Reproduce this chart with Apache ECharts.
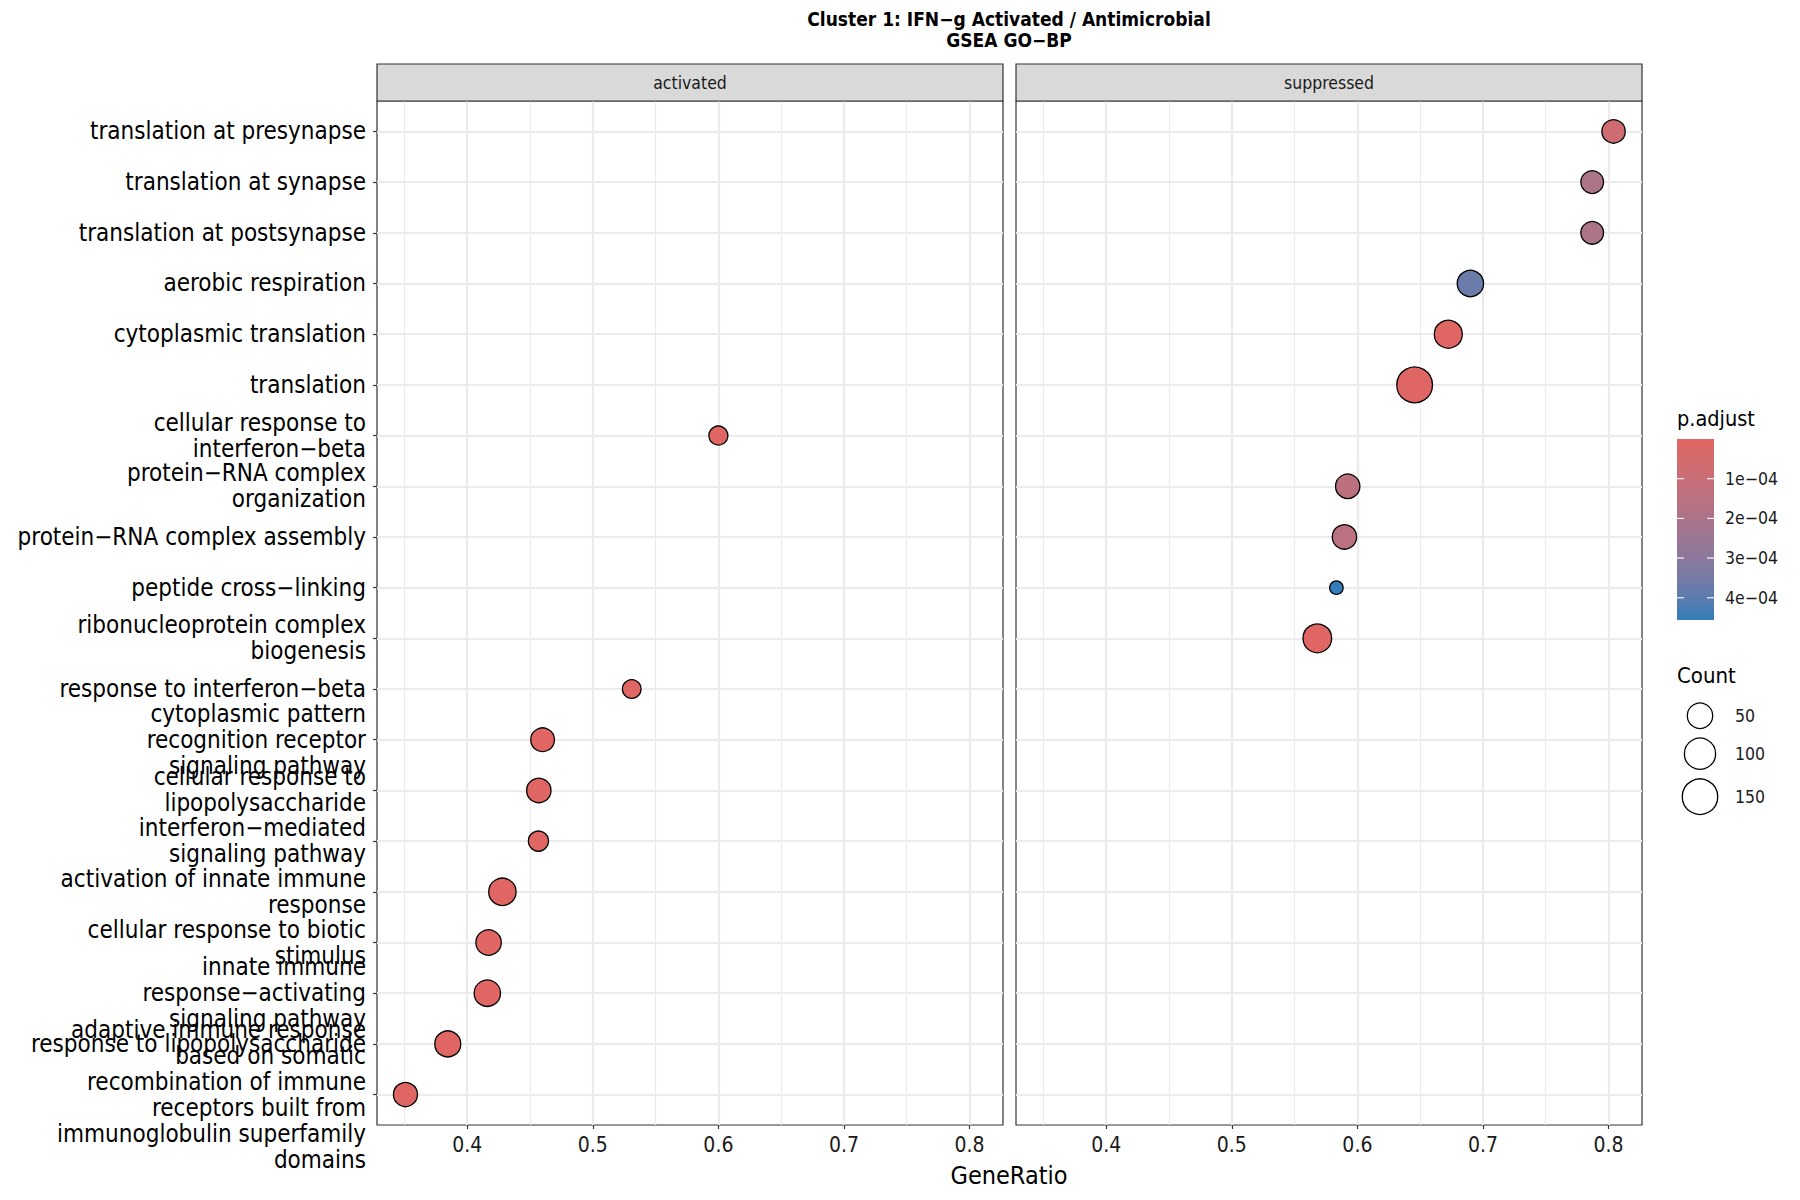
<!DOCTYPE html>
<html><head><meta charset="utf-8">
<script src="https://cdn.jsdelivr.net/npm/echarts@6/dist/echarts.min.js"></script>
<style>html,body{margin:0;padding:0;background:#fff}#c{width:1800px;height:1200px}</style>
</head><body><div id="c"></div>
<script>
// ---------- data ----------
const facets = ['activated', 'suppressed'];
const categories = [
  'translation at presynapse',
  'translation at synapse',
  'translation at postsynapse',
  'aerobic respiration',
  'cytoplasmic translation',
  'translation',
  'cellular response to\ninterferon−beta',
  'protein−RNA complex\norganization',
  'protein−RNA complex assembly',
  'peptide cross−linking',
  'ribonucleoprotein complex\nbiogenesis',
  'response to interferon−beta',
  'cytoplasmic pattern\nrecognition receptor\nsignaling pathway',
  'cellular response to\nlipopolysaccharide',
  'interferon−mediated\nsignaling pathway',
  'activation of innate immune\nresponse',
  'cellular response to biotic\nstimulus',
  'innate immune\nresponse−activating\nsignaling pathway',
  'response to lipopolysaccharide',
  'adaptive immune response\nbased on somatic\nrecombination of immune\nreceptors built from\nimmunoglobulin superfamily\ndomains'
];
const actTerms = [
  'cellular response to\ninterferon−beta',
  'response to interferon−beta',
  'cytoplasmic pattern\nrecognition receptor\nsignaling pathway',
  'cellular response to\nlipopolysaccharide',
  'interferon−mediated\nsignaling pathway',
  'activation of innate immune\nresponse',
  'cellular response to biotic\nstimulus',
  'innate immune\nresponse−activating\nsignaling pathway',
  'response to lipopolysaccharide',
  'adaptive immune response\nbased on somatic\nrecombination of immune\nreceptors built from\nimmunoglobulin superfamily\ndomains'
];
const actRatio = [0.600, 0.531, 0.460, 0.457, 0.4567, 0.428, 0.417, 0.416, 0.3845, 0.3508];
const actCount = [17, 16, 39, 43, 21, 65, 50, 57, 54, 41];
const actPadj  = [2e-9, 3e-8, 1e-9, 1e-10, 5e-9, 1e-12, 1e-11, 1e-11, 1e-10, 2e-9];

const supTerms = [
  'translation at presynapse',
  'translation at synapse',
  'translation at postsynapse',
  'aerobic respiration',
  'cytoplasmic translation',
  'translation',
  'protein−RNA complex\norganization',
  'protein−RNA complex assembly',
  'peptide cross−linking',
  'ribonucleoprotein complex\nbiogenesis'
];
const supRatio = [0.804, 0.787, 0.787, 0.690, 0.6724, 0.6456, 0.5923, 0.5897, 0.5833, 0.5681];
const supCount = [37, 33, 33, 57, 70, 153, 43, 43, 8, 76];
const supPadj  = [7.3e-5, 2.0e-4, 2.0e-4, 3.73e-4, 1e-9, 1e-12, 1.41e-4, 1.45e-4, 4.56e-4, 1e-8];

const xMajor = [0.4, 0.5, 0.6, 0.7, 0.8];
const xMinor = [0.35, 0.45, 0.55, 0.65, 0.75];
const padjTicks = [1e-4, 2e-4, 3e-4, 4e-4];
const padjTickLabels = ['1e−04', '2e−04', '3e−04', '4e−04'];
const countLegend = [50, 100, 150];
const titleText = 'Cluster 1: IFN−g Activated / Antimicrobial\nGSEA GO−BP';
const xTitle = 'GeneRatio';

// ---------- styling / layout ----------
const FONT = "'DejaVu Sans Condensed', 'DejaVu Sans', sans-serif";
const gradColors = ['#E06663','#D26B6E','#C46F79','#B47284','#A3758E','#907899','#7A7AA4','#5E7CAF','#327EBA'];
const panelTop = 101, panelH = 1024, panelW = 626;
const panelLeft = [377, 1016];
const nCat = categories.length;
const yMin = 0.4, yMax = nCat + 0.6;

const allRatio = actRatio.concat(supRatio);
const rLo = Math.min(...allRatio), rHi = Math.max(...allRatio);
const rPad = 0.05 * (rHi - rLo);
const xMin = rLo - rPad, xMax = rHi + rPad;

const allCount = actCount.concat(supCount);
const cMin = Math.min(...allCount), cMax = Math.max(...allCount);
const allP = actPadj.concat(supPadj);
const pMin = Math.min(...allP), pMax = Math.max(...allP);
const BORDER = 1.3;
function dotDiameter(c) { return 14.7 + 22.3 * Math.sqrt((c - cMin) / (cMax - cMin)); }
function yOf(term) { return nCat - categories.indexOf(term); }
const catVals = categories.map((_, i) => nCat - i);
// empty guard labels at the axis ends so ECharts' min/max label hiding only hits them
const yLabelVals = [yMin].concat(catVals.slice().reverse(), [yMax]);

function pts(terms, ratio, count, padj) {
  return terms.map((t, i) => [ratio[i], yOf(t), count[i], padj[i]]);
}

function gridLineSeries(idx) {
  const data = [];
  xMinor.forEach(v => data.push({ xAxis: v, lineStyle: { width: 1.1 } }));
  xMajor.forEach(v => data.push({ xAxis: v, lineStyle: { width: 2.2 } }));
  catVals.forEach(v => data.push({ yAxis: v, lineStyle: { width: 2.2 } }));
  return {
    type: 'scatter', xAxisIndex: idx, yAxisIndex: idx, data: [], z: 1, silent: true,
    markLine: { silent: true, symbol: ['none', 'none'], label: { show: false },
      lineStyle: { color: '#EBEBEB', type: 'solid' }, animation: false, data: data }
  };
}

const chart = echarts.init(document.getElementById('c'), null, { renderer: 'svg' });

const graphics = [];
// strips
facets.forEach((f, i) => {
  graphics.push({ type: 'rect', shape: { x: panelLeft[i], y: 64, width: panelW, height: 37 },
    style: { fill: '#D9D9D9', stroke: '#333333', lineWidth: 1.2 }, z: 10 });
  graphics.push({ type: 'text', x: panelLeft[i] + panelW / 2, y: 82.5, z: 11,
    style: { text: f, fontFamily: FONT, fontSize: 17.5, fill: '#1A1A1A', textAlign: 'center', textVerticalAlign: 'middle' } });
});
// title
graphics.push({ type: 'text', x: 1009, y: 8, z: 11,
  style: { text: titleText, fontFamily: FONT, fontWeight: 'bold', fontSize: 19, lineHeight: 21,
    fill: '#000', textAlign: 'center', textVerticalAlign: 'top' } });
// x title
graphics.push({ type: 'text', x: 1009, y: 1175, z: 11,
  style: { text: xTitle, fontFamily: FONT, fontSize: 25, fill: '#000', textAlign: 'center', textVerticalAlign: 'middle' } });
// colour legend
const cbX = 1677, cbY = 439, cbW = 37, cbH = 181;
graphics.push({ type: 'text', x: cbX, y: 418, z: 11,
  style: { text: 'p.adjust', fontFamily: FONT, fontSize: 21.5, fill: '#000', textAlign: 'left', textVerticalAlign: 'middle' } });
graphics.push({ type: 'rect', shape: { x: cbX, y: cbY, width: cbW, height: cbH }, z: 10,
  style: { fill: { type: 'linear', x: 0, y: 0, x2: 0, y2: 1,
    colorStops: gradColors.map((c, i) => ({ offset: i / (gradColors.length - 1), color: c })) } } });
padjTicks.forEach((v, i) => {
  const y = cbY + (v - pMin) / (pMax - pMin) * cbH;
  graphics.push({ type: 'line', shape: { x1: cbX, y1: y, x2: cbX + 7, y2: y }, z: 12, style: { stroke: '#fff', lineWidth: 1.1 } });
  graphics.push({ type: 'line', shape: { x1: cbX + cbW - 7, y1: y, x2: cbX + cbW, y2: y }, z: 12, style: { stroke: '#fff', lineWidth: 1.1 } });
  graphics.push({ type: 'text', x: 1725, y: y, z: 11,
    style: { text: padjTickLabels[i], fontFamily: FONT, fontSize: 17.5, fill: '#1A1A1A', textAlign: 'left', textVerticalAlign: 'middle' } });
});
// size legend
graphics.push({ type: 'text', x: cbX, y: 675, z: 11,
  style: { text: 'Count', fontFamily: FONT, fontSize: 22, fill: '#000', textAlign: 'left', textVerticalAlign: 'middle' } });
const sizeKeyY = [715.7, 753.7, 796.7];
countLegend.forEach((v, i) => {
  graphics.push({ type: 'circle', shape: { cx: 1700, cy: sizeKeyY[i], r: (dotDiameter(v) - BORDER) / 2 }, z: 11,
    style: { fill: '#fff', stroke: '#000', lineWidth: BORDER } });
  graphics.push({ type: 'text', x: 1735, y: sizeKeyY[i], z: 11,
    style: { text: String(v), fontFamily: FONT, fontSize: 17.5, fill: '#1A1A1A', textAlign: 'left', textVerticalAlign: 'middle' } });
});

function xAxisOpt(i) {
  return {
    type: 'value', gridIndex: i, min: xMin, max: xMax,
    axisLine: { show: false },
    axisTick: { show: true, customValues: xMajor, length: 4, lineStyle: { color: '#333', width: 1.2 } },
    axisLabel: { customValues: xMajor, formatter: v => v.toFixed(1), fontFamily: FONT, fontSize: 21, color: '#1A1A1A', margin: 9,
      showMinLabel: true, showMaxLabel: true, hideOverlap: false },
    splitLine: { show: false }
  };
}
function catLabel(v) {
  const k = Math.round(v);
  if (Math.abs(v - k) > 1e-6 || k < 1 || k > nCat) return '';
  return categories[nCat - k];
}
function yAxisOpt(i) {
  return {
    type: 'value', gridIndex: i, min: yMin, max: yMax,
    axisLine: { show: false },
    axisTick: { show: i === 0, customValues: catVals, length: 4, lineStyle: { color: '#333', width: 1.2 } },
    axisLabel: { show: i === 0, customValues: yLabelVals, formatter: catLabel,
      fontFamily: FONT, fontSize: 24, lineHeight: 26, color: '#000', margin: 11, align: 'right',
      showMinLabel: false, showMaxLabel: false, hideOverlap: false },
    splitLine: { show: false }
  };
}

const option = {
  backgroundColor: '#fff',
  animation: false,
  textStyle: { fontFamily: FONT },
  grid: panelLeft.map(l => ({ left: l, top: panelTop, width: panelW, height: panelH, show: true,
    backgroundColor: '#fff', borderColor: '#333333', borderWidth: 1.2, containLabel: false })),
  xAxis: [xAxisOpt(0), xAxisOpt(1)],
  yAxis: [yAxisOpt(0), yAxisOpt(1)],
  visualMap: [{ type: 'continuous', show: false, seriesIndex: [0, 1], dimension: 3,
    min: pMin, max: pMax, inRange: { color: gradColors } }],
  series: [
    { type: 'scatter', name: facets[0], xAxisIndex: 0, yAxisIndex: 0, z: 5,
      data: pts(actTerms, actRatio, actCount, actPadj),
      symbolSize: v => dotDiameter(v[2]) - BORDER,
      itemStyle: { borderColor: '#000', borderWidth: BORDER, opacity: 1 } },
    { type: 'scatter', name: facets[1], xAxisIndex: 1, yAxisIndex: 1, z: 5,
      data: pts(supTerms, supRatio, supCount, supPadj),
      symbolSize: v => dotDiameter(v[2]) - BORDER,
      itemStyle: { borderColor: '#000', borderWidth: BORDER, opacity: 1 } },
    gridLineSeries(0),
    gridLineSeries(1)
  ],
  graphic: graphics
};
chart.setOption(option);
</script>
</body></html>
